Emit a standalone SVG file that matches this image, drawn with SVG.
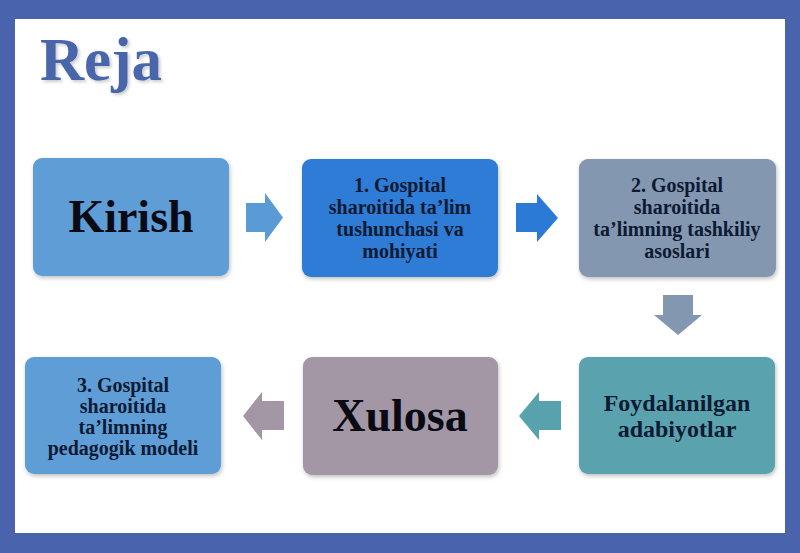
<svg xmlns="http://www.w3.org/2000/svg" width="800" height="553" viewBox="0 0 800 553">
<defs>
<filter id="sh" x="-10%" y="-10%" width="125%" height="130%">
<feDropShadow dx="1" dy="2" stdDeviation="2" flood-color="#000" flood-opacity="0.25"/>
</filter>
<filter id="tsh" x="-10%" y="-10%" width="130%" height="140%">
<feDropShadow dx="2" dy="2" stdDeviation="1.5" flood-color="#000" flood-opacity="0.2"/>
</filter>
</defs>
<style>
.box{filter:url(#sh);}
.t{font-family:"Liberation Serif","Times New Roman",serif;font-weight:bold;fill:#0d1a33;text-anchor:middle;}
.s{font-size:20px;}
.big{font-size:46px;fill:#0a0a14;}
.mid{font-size:24px;}
</style>
<rect x="0" y="0" width="800" height="553" fill="#4a63ad"/>
<rect x="15" y="19" width="770" height="514" fill="#ffffff"/>
<text x="40" y="80" font-family="Liberation Serif, serif" font-weight="bold" font-size="61" fill="#4a66ab" filter="url(#tsh)">Reja</text>

<g id="connectors">
<path d="M246,203 H265 V193 L283,217.5 L265,242 V232 H246 Z" fill="#5b9bd5"/>
<path d="M516,203 H537 V194 L558,218 L537,242 V232 H516 Z" fill="#2b7bd6"/>
<path d="M663,295 H693 V315 H702 L678,335 L654,315 H663 Z" fill="#8497b0"/>
<path d="M561,401 H539 V392 L519,416 L539,440 V430 H561 Z" fill="#58a2ad"/>
<path d="M284,401 H262 V392 L243,416 L262,440 V430 H284 Z" fill="#a397a6"/>
</g>

<g id="n-kirish">
<rect class="box" x="33" y="158" width="196" height="118" rx="9" fill="#5e9dd6"/>
<text class="t big" x="131" y="232">Kirish</text>
</g>
<g id="n-1">
<rect class="box" x="302" y="159" width="196" height="118" rx="9" fill="#2e7cd5"/>
<text class="t s" x="400" y="192">1. Gospital</text>
<text class="t s" x="400" y="214">sharoitida ta’lim</text>
<text class="t s" x="400" y="236">tushunchasi va</text>
<text class="t s" x="400" y="258">mohiyati</text>
</g>
<g id="n-2">
<rect class="box" x="579" y="159" width="197" height="118" rx="9" fill="#8497b0"/>
<text class="t s" x="677" y="192">2. Gospital</text>
<text class="t s" x="677" y="214">sharoitida</text>
<text class="t s" x="677" y="236">ta’limning tashkiliy</text>
<text class="t s" x="677" y="258">asoslari</text>
</g>
<g id="n-foyd">
<rect class="box" x="579" y="357" width="196" height="117" rx="9" fill="#5aa2ad"/>
<text class="t mid" x="677" y="411">Foydalanilgan</text>
<text class="t mid" x="677" y="437">adabiyotlar</text>
</g>
<g id="n-xulosa">
<rect class="box" x="303" y="357" width="195" height="118" rx="9" fill="#a397a6"/>
<text class="t big" x="400" y="431">Xulosa</text>
</g>
<g id="n-3">
<rect class="box" x="25" y="357" width="196" height="117" rx="9" fill="#5e9dd6"/>
<text class="t s" x="123" y="392">3. Gospital</text>
<text class="t s" x="123" y="413">sharoitida</text>
<text class="t s" x="123" y="434">ta’limning</text>
<text class="t s" x="123" y="455">pedagogik modeli</text>
</g>
</svg>
